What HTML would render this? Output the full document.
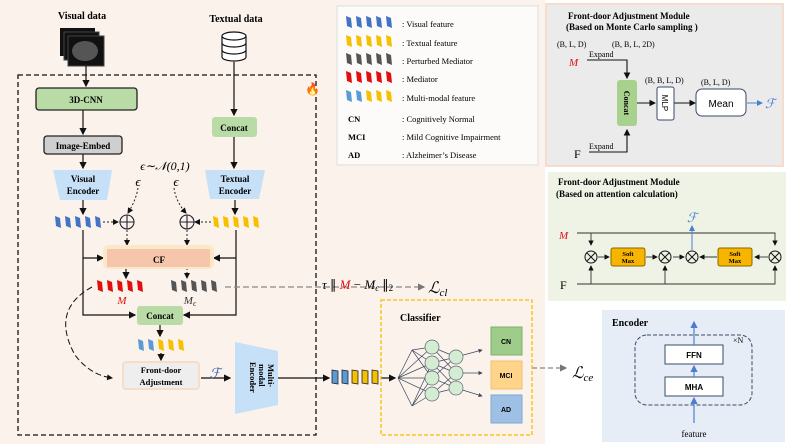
<!DOCTYPE html>
<html><head><meta charset="utf-8"><style>
body{margin:0;background:#fff}
svg{display:block;font-family:"Liberation Serif",serif}
.b{font-weight:bold}
</style></head><body>
<svg width="793" height="448" viewBox="0 0 793 448" xmlns="http://www.w3.org/2000/svg">
<defs>
<marker id="a" markerWidth="6" markerHeight="6" refX="5" refY="3" orient="auto"><path d="M0,0 L6,3 L0,6z" fill="#111"/></marker>
<marker id="g" markerWidth="6" markerHeight="6" refX="5" refY="3" orient="auto"><path d="M0,0 L6,3 L0,6z" fill="#777"/></marker>
<marker id="bl" markerWidth="6" markerHeight="6" refX="5" refY="3" orient="auto"><path d="M0,0 L6,3 L0,6z" fill="#4a7fd0"/></marker>
<marker id="n" markerWidth="6" markerHeight="6" refX="5" refY="3" orient="auto"><path d="M0,0 L6,3 L0,6z" fill="#3d4a5e"/></marker>
<g id="bar"><path d="M0,0 L5,2 L6,12 L1,10z"/></g>
</defs>
<rect x="0" y="0" width="545" height="444" fill="#fbf2ec"/>
<rect x="18" y="75" width="298" height="360" fill="none" stroke="#111" stroke-width="1.3" stroke-dasharray="5,3"/>
<text x="305" y="93" font-size="12" fill="#f06010">🔥</text>
<text x="82" y="19" font-size="10" class="b" text-anchor="middle">Visual data</text>
<text x="236" y="22" font-size="10" class="b" text-anchor="middle">Textual data</text>
<rect x="60" y="28" width="35" height="28" fill="#111"/><rect x="64" y="32" width="35" height="28" fill="#111" stroke="#444"/><rect x="68" y="36" width="36" height="30" fill="#111" stroke="#444"/>
<ellipse cx="85" cy="51" rx="13" ry="10" fill="#555"/>
<g fill="#fff" stroke="#111" stroke-width="1.2"><path d="M222,36 v21 a12,4 0 0 0 24,0 v-21"/><ellipse cx="234" cy="36" rx="12" ry="4"/><path d="M222,43 a12,4 0 0 0 24,0 M222,50 a12,4 0 0 0 24,0" fill="none"/></g>
<g stroke="#111" stroke-width="1.2" fill="none">
<path d="M86,66 V86" marker-end="url(#a)"/>
<path d="M234,62 V115" marker-end="url(#a)"/>
<path d="M83,110 V134" marker-end="url(#a)"/>
<path d="M83,154 V168" marker-end="url(#a)"/>
<path d="M234,137 V168" marker-end="url(#a)"/>
<path d="M83,200 V214" marker-end="url(#a)"/>
<path d="M235,200 V214" marker-end="url(#a)"/>
<path d="M83,230 V315 H135" marker-end="url(#a)"/>
<path d="M83,258 H103" marker-end="url(#a)"/>
<path d="M236,230 V315 H184" marker-end="url(#a)"/>
<path d="M236,258 H214" marker-end="url(#a)"/>
<path d="M126,266 V278" marker-end="url(#a)"/>
<path d="M160,324 V336" marker-end="url(#a)"/>
<path d="M161,353 V360" marker-end="url(#a)"/>
<path d="M201,378 H230" marker-end="url(#a)"/>
<path d="M278,378 H329" marker-end="url(#a)"/>
<path d="M381,378 H395" marker-end="url(#a)"/>
</g>
<g stroke="#222" stroke-width="1" fill="none" stroke-dasharray="2,2">
<path d="M103,222 H118" marker-end="url(#a)"/><path d="M211,222 H195" marker-end="url(#a)"/>
<path d="M127,230 V245" marker-end="url(#a)"/><path d="M187,230 V245" marker-end="url(#a)"/>
<path d="M138,188 Q136,200 128,213" marker-end="url(#a)"/><path d="M174,188 Q176,202 186,213" marker-end="url(#a)"/>
<path d="M187,260 V278" marker-end="url(#a)"/>
</g>
<path d="M92,287 Q50,310 75,355 Q90,375 112,378" fill="none" stroke="#111" stroke-dasharray="6,3" marker-end="url(#a)"/>
<path d="M225,287 H424" fill="none" stroke="#888" stroke-width="1.2" stroke-dasharray="6,3" marker-end="url(#g)"/>
<path d="M532,368 H566" fill="none" stroke="#888" stroke-width="1.2" stroke-dasharray="5,3" marker-end="url(#g)"/>
<rect x="36" y="88" width="101" height="22" rx="3" fill="#b9dca6" stroke="#222" stroke-width="1.3"/>
<text x="86" y="103" font-size="9" class="b" text-anchor="middle">3D-CNN</text>
<rect x="44" y="136" width="78" height="18" rx="3" fill="#cfcfcf" stroke="#222" stroke-width="1.3"/>
<text x="83" y="149" font-size="9" class="b" text-anchor="middle">Image-Embed</text>
<rect x="212" y="117" width="45" height="20" rx="3" fill="#b9dca6"/>
<text x="234" y="131" font-size="9" class="b" text-anchor="middle">Concat</text>
<path d="M53,170 H112 L107,200 H60z" fill="#c6e0f8"/>
<text x="83" y="182" font-size="9" class="b" text-anchor="middle">Visual</text><text x="83" y="194" font-size="9" class="b" text-anchor="middle">Encoder</text>
<path d="M205,170 H265 L259,199 H210z" fill="#c6e0f8"/>
<text x="235" y="182" font-size="9" class="b" text-anchor="middle">Textual</text><text x="235" y="194" font-size="9" class="b" text-anchor="middle">Encoder</text>
<text x="165" y="170" font-size="12" text-anchor="middle" font-style="italic">ϵ∼𝒩(0,1)</text>
<text x="138" y="186" font-size="13" text-anchor="middle" font-style="italic">ϵ</text><text x="176" y="186" font-size="13" text-anchor="middle" font-style="italic">ϵ</text>
<g fill="none" stroke="#223" stroke-width="1.1"><circle cx="127" cy="222" r="7"/><path d="M120,222h14M127,215v14"/><circle cx="187" cy="222" r="7"/><path d="M180,222h14M187,215v14"/></g>
<g fill="#4472c4"><use href="#bar" x="55" y="216"/><use href="#bar" x="65" y="216"/><use href="#bar" x="75" y="216"/><use href="#bar" x="85" y="216"/><use href="#bar" x="95" y="216"/></g>
<g fill="#f5c000"><use href="#bar" x="213" y="216"/><use href="#bar" x="223" y="216"/><use href="#bar" x="233" y="216"/><use href="#bar" x="243" y="216"/><use href="#bar" x="253" y="216"/></g>
<rect x="103" y="245" width="111" height="24" rx="5" fill="#fbe8c6"/>
<rect x="107" y="249" width="103" height="18" fill="#f6c6ac"/>
<text x="159" y="263" font-size="9" class="b" text-anchor="middle">CF</text>
<g fill="#e01010"><use href="#bar" x="97" y="280"/><use href="#bar" x="107" y="280"/><use href="#bar" x="117" y="280"/><use href="#bar" x="127" y="280"/><use href="#bar" x="137" y="280"/></g>
<g fill="#555"><use href="#bar" x="171" y="280"/><use href="#bar" x="181" y="280"/><use href="#bar" x="191" y="280"/><use href="#bar" x="201" y="280"/><use href="#bar" x="211" y="280"/></g>
<text x="122" y="304" font-size="11" fill="#e01010" text-anchor="middle" font-style="italic">M</text>
<text x="190" y="304" font-size="11" fill="#333" text-anchor="middle" font-style="italic">M<tspan font-size="8" dy="2">ϵ</tspan></text>
<rect x="137" y="306" width="46" height="19" rx="3" fill="#b9dca6"/>
<text x="160" y="319" font-size="9" class="b" text-anchor="middle">Concat</text>
<g><use href="#bar" x="138" y="339" fill="#5b9bd5"/><use href="#bar" x="148" y="339" fill="#5b9bd5"/><use href="#bar" x="158" y="339" fill="#f5c000"/><use href="#bar" x="168" y="339" fill="#f5c000"/><use href="#bar" x="178" y="339" fill="#f5c000"/></g>
<rect x="123" y="362" width="76" height="27" rx="3" fill="#eeeeee" stroke="#f7dcc8" stroke-width="2"/>
<text x="161" y="373" font-size="8.5" class="b" text-anchor="middle">Front-door</text><text x="161" y="385" font-size="8.5" class="b" text-anchor="middle">Adjustment</text>
<text x="215" y="378" font-size="14" fill="#3a66b8" text-anchor="middle" font-style="italic">ℱ</text>
<path d="M235,342 L278,351 V405 L235,414z" fill="#c6e0f8"/>
<text transform="translate(258,362) rotate(90)" font-size="8.5" class="b"><tspan x="2" y="-10">Multi-</tspan><tspan x="2" y="-1">modal</tspan><tspan x="0" y="8">Encoder</tspan></text>
<g stroke="#223" stroke-width="0.8"><path d="M332,370 l6,1 v13 l-6,-1z" fill="#5b9bd5"/><path d="M342,370 l6,1 v13 l-6,-1z" fill="#5b9bd5"/><path d="M352,370 l6,1 v13 l-6,-1z" fill="#f5c000"/><path d="M362,370 l6,1 v13 l-6,-1z" fill="#f5c000"/><path d="M372,370 l6,1 v13 l-6,-1z" fill="#f5c000"/></g>
<text x="322" y="289" font-size="13" font-style="italic">τ <tspan font-style="normal">∥</tspan> <tspan fill="#e01010">M</tspan> <tspan font-style="normal">−</tspan> M<tspan font-size="9" dy="2">ϵ</tspan><tspan dy="-2" font-style="normal"> ∥</tspan><tspan font-size="9" dy="2" font-style="normal">2</tspan></text>
<text x="428" y="293" font-size="16" font-style="italic">ℒ<tspan font-size="11" dy="3">cl</tspan></text>
<text x="572" y="378" font-size="16" font-style="italic">ℒ<tspan font-size="11" dy="3">ce</tspan></text>
<rect x="337" y="6" width="201" height="159" fill="#fdfbf9" stroke="#ddd"/>
<g font-size="8.5">
<g fill="#4472c4"><use href="#bar" x="346" y="16"/><use href="#bar" x="356" y="16"/><use href="#bar" x="366" y="16"/><use href="#bar" x="376" y="16"/><use href="#bar" x="386" y="16"/></g><text x="402" y="27">: Visual feature</text>
<g fill="#f5c000"><use href="#bar" x="346" y="35"/><use href="#bar" x="356" y="35"/><use href="#bar" x="366" y="35"/><use href="#bar" x="376" y="35"/><use href="#bar" x="386" y="35"/></g><text x="402" y="46">: Textual feature</text>
<g fill="#555"><use href="#bar" x="346" y="53"/><use href="#bar" x="356" y="53"/><use href="#bar" x="366" y="53"/><use href="#bar" x="376" y="53"/><use href="#bar" x="386" y="53"/></g><text x="402" y="64">: Perturbed Mediator</text>
<g fill="#e01010"><use href="#bar" x="346" y="71"/><use href="#bar" x="356" y="71"/><use href="#bar" x="366" y="71"/><use href="#bar" x="376" y="71"/><use href="#bar" x="386" y="71"/></g><text x="402" y="82">: Mediator</text>
<g><use href="#bar" x="346" y="90" fill="#5b9bd5"/><use href="#bar" x="356" y="90" fill="#5b9bd5"/><use href="#bar" x="366" y="90" fill="#f5c000"/><use href="#bar" x="376" y="90" fill="#f5c000"/><use href="#bar" x="386" y="90" fill="#f5c000"/></g><text x="402" y="101">: Multi-modal feature</text>
<text x="348" y="122" class="b">CN</text><text x="402" y="122">: Cognitively Normal</text>
<text x="348" y="140" class="b">MCI</text><text x="402" y="140">: Mild Cognitive Impairment</text>
<text x="348" y="158" class="b">AD</text><text x="402" y="158">: Alzheimer’s Disease</text>
</g>
<rect x="381" y="300" width="151" height="135" fill="none" stroke="#f5c000" stroke-width="1.3" stroke-dasharray="4,2"/>
<text x="400" y="321" font-size="10" class="b">Classifier</text>
<g stroke="#3d4a5e" stroke-width="0.7">
<path d="M398,378 L432,347 M398,378 L432,363 M398,378 L432,378 M398,378 L432,394 M398,378 L412,350 M398,378 L412,406 M412,350 L432,347 M412,350 L432,363 M412,350 L432,378 M412,406 L432,378 M412,406 L432,394 M412,406 L432,363 M432,347 L456,357 M432,347 L456,373 M432,363 L456,357 M432,363 L456,373 M432,363 L456,388 M432,378 L456,357 M432,378 L456,388 M432,394 L456,373 M432,394 L456,388"/>
<path d="M456,357 L482,350" marker-end="url(#n)"/><path d="M456,373 L482,373" marker-end="url(#n)"/><path d="M456,388 L482,396" marker-end="url(#n)"/>
</g>
<g fill="#d5ecd4" stroke="#5a6a70" stroke-width="0.7"><circle cx="432" cy="347" r="7"/><circle cx="432" cy="363" r="7"/><circle cx="432" cy="378" r="7"/><circle cx="432" cy="394" r="7"/><circle cx="456" cy="357" r="7"/><circle cx="456" cy="373" r="7"/><circle cx="456" cy="388" r="7"/></g>
<rect x="491" y="327" width="31" height="28" fill="#9fcc8a" stroke="#7fb06a"/><text x="506" y="344" font-size="7" text-anchor="middle" font-family="Liberation Sans" class="b">CN</text>
<rect x="491" y="361" width="31" height="28" fill="#fed48a" stroke="#f0c070"/><text x="506" y="378" font-size="7" text-anchor="middle" font-family="Liberation Sans" class="b">MCI</text>
<rect x="491" y="395" width="31" height="28" fill="#9dc0e4" stroke="#80a8d0"/><text x="506" y="412" font-size="7" text-anchor="middle" font-family="Liberation Sans" class="b">AD</text>
<rect x="546" y="4" width="237" height="162" fill="#ebebeb" stroke="#f6dccd" stroke-width="2"/>
<text x="568" y="19" font-size="9" class="b">Front-door Adjustment Module</text>
<text x="566" y="30" font-size="9" class="b">(Based on Monte Carlo sampling )</text>
<g font-size="8"><text x="557" y="47">(B, L, D)</text><text x="612" y="47">(B, B, L, 2D)</text><text x="645" y="83">(B, B, L, D)</text><text x="701" y="85">(B, L, D)</text><text x="589" y="57">Expand</text><text x="589" y="149">Expand</text></g>
<text x="569" y="66" font-size="11" fill="#e01010" font-style="italic">M</text>
<text x="574" y="158" font-size="12">F</text>
<g stroke="#111" stroke-width="1.1" fill="none"><path d="M587,60 H627 V78" marker-end="url(#a)"/><path d="M589,152 H627 V130" marker-end="url(#a)"/><path d="M637,103 H655" marker-end="url(#a)"/><path d="M674,103 H695" marker-end="url(#a)"/></g>
<rect x="617" y="80" width="20" height="46" rx="3" fill="#a9d18e"/>
<text transform="translate(624,103) rotate(90)" font-size="8" class="b" text-anchor="middle">Concat</text>
<rect x="657" y="87" width="17" height="33" rx="2" fill="#fff" stroke="#3a4a6a"/>
<text transform="translate(662,103) rotate(90)" font-size="8" font-family="Liberation Sans" text-anchor="middle">MLP</text>
<rect x="696" y="89" width="50" height="27" rx="6" fill="#fff" stroke="#3a4a6a"/>
<text x="721" y="107" font-size="10" font-family="Liberation Sans" text-anchor="middle">Mean</text>
<path d="M747,103 H762" stroke="#4a7fd0" marker-end="url(#bl)"/>
<text x="765" y="108" font-size="13" fill="#4a7fd0" font-style="italic">ℱ</text>
<rect x="548" y="172" width="238" height="129" fill="#eef3e6"/>
<text x="558" y="185" font-size="9" class="b">Front-door Adjustment Module</text>
<text x="556" y="197" font-size="9" class="b">(Based on attention calculation)</text>
<text x="559" y="239" font-size="11" fill="#e01010" font-style="italic">M</text>
<text x="560" y="289" font-size="12">F</text>
<g stroke="#333" stroke-width="0.9" fill="none">
<path d="M577,233 H775 V245" marker-end="url(#a)"/><path d="M591,233 V245" marker-end="url(#a)"/>
<path d="M577,284 H775 V266" marker-end="url(#a)"/><path d="M591,284 V266" marker-end="url(#a)"/><path d="M665,284 V266" marker-end="url(#a)"/>
<path d="M598,257 H609" marker-end="url(#a)"/><path d="M646,257 H657" marker-end="url(#a)"/><path d="M673,257 H684" marker-end="url(#a)"/><path d="M717,257 H700" marker-end="url(#a)"/><path d="M768,257 H755" marker-end="url(#a)"/>
</g>
<path d="M692,250 V226" stroke="#4a7fd0" marker-end="url(#bl)"/>
<text x="692" y="222" font-size="13" fill="#4a7fd0" text-anchor="middle" font-style="italic">ℱ</text>
<g fill="none" stroke="#111" stroke-width="1"><g id="ot"><circle cx="591" cy="257" r="6"/><path d="M587,253 l8,8 M595,253 l-8,8"/></g><use href="#ot" x="74"/><use href="#ot" x="101"/><use href="#ot" x="184"/></g>
<rect x="611" y="248" width="34" height="18" rx="2" fill="#f7b400" stroke="#8a6a00"/><text x="628" y="256" font-size="6.5" class="b" text-anchor="middle">Soft</text><text x="628" y="263" font-size="6.5" class="b" text-anchor="middle">Max</text>
<rect x="718" y="248" width="34" height="18" rx="2" fill="#f7b400" stroke="#8a6a00"/><text x="735" y="256" font-size="6.5" class="b" text-anchor="middle">Soft</text><text x="735" y="263" font-size="6.5" class="b" text-anchor="middle">Max</text>
<rect x="602" y="310" width="183" height="132" fill="#e6edf7"/>
<text x="612" y="326" font-size="10" class="b">Encoder</text>
<rect x="635" y="335" width="117" height="70" rx="12" fill="none" stroke="#3a4a6a" stroke-dasharray="4,2"/>
<text x="733" y="343" font-size="8">×N</text>
<rect x="665" y="345" width="58" height="19" fill="#fff" stroke="#3a4a6a"/><text x="694" y="358" font-size="8" font-family="Liberation Sans" class="b" text-anchor="middle">FFN</text>
<rect x="665" y="377" width="58" height="19" fill="#fff" stroke="#3a4a6a"/><text x="694" y="390" font-size="8" font-family="Liberation Sans" class="b" text-anchor="middle">MHA</text>
<g stroke="#4a7fd0" stroke-width="1.2"><path d="M694,423 V398" marker-end="url(#bl)"/><path d="M694,377 V366" marker-end="url(#bl)"/><path d="M694,345 V322" marker-end="url(#bl)"/></g>
<text x="694" y="437" font-size="9" text-anchor="middle">feature</text>
</svg>
</body></html>
